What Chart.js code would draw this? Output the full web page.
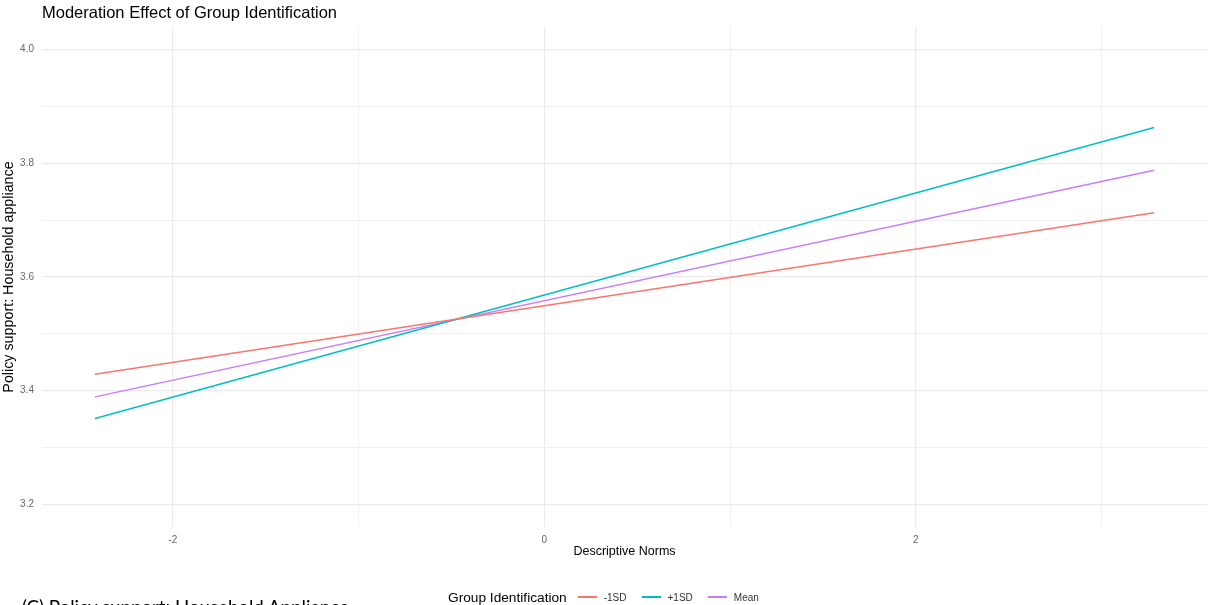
<!DOCTYPE html>
<html>
<head>
<meta charset="utf-8">
<title>Moderation Effect of Group Identification</title>
<script src="https://cdn.jsdelivr.net/npm/chart.js@4/dist/chart.umd.min.js"></script>
<style>
  html, body { margin: 0; padding: 0; background: #fff; overflow: hidden; }
  #wrap { position: relative; width: 1212px; height: 605px; }
  #chart { position: absolute; left: 0; top: 0; }
  #legend {
    position: absolute; left: 448px; top: 589px; height: 16px;
    display: flex; align-items: center; white-space: nowrap;
    font-family: "Liberation Sans", Arial, sans-serif; color: #000;
  }
  #legend .ltitle { font-size: 13.7px; margin-right: 11px; }
  #legend .key { display: inline-block; width: 19px; height: 1.5px; margin-right: 7px; }
  #legend .lab { font-size: 10px; color: #333; margin-right: 15px; }
  #caption {
    position: absolute; left: 22px; top: 598px; line-height: 18px;
    font-family: Lato, "Open Sans", sans-serif; font-size: 18.7px; color: #000; white-space: nowrap;
  }
</style>
</head>
<body>
<div id="wrap">
  <canvas id="chart" width="1212" height="605"></canvas>
  <div id="legend"></div>
  <div id="caption">(C) Policy support: Household Appliance</div>
</div>
<script>
// Simple slopes of policy support on descriptive norms at three levels of group identification
const groupLabels = ['-1SD', '+1SD', 'Mean'];
const groupColors = ['#F8766D', '#00BFC4', '#C77CFF'];
const normsRange = [-2.42, 3.283];
const lowIdentification = [3.429, 3.713];
const highIdentification = [3.351, 3.863];
const meanIdentification = [3.389, 3.788];

// Axis breaks: labelled (major) and unlabelled (minor) grid positions
const xMajorTicks = [-2, 0, 2];
const xMinorTicks = [-1, 1, 3];
const yMajorTicks = [3.2, 3.4, 3.6, 3.8, 4.0];
const yMinorTicks = [3.3, 3.5, 3.7, 3.9];

const seriesValues = [lowIdentification, highIdentification, meanIdentification];

const datasets = groupLabels.map((label, i) => ({
  label,
  data: normsRange.map((x, j) => ({ x, y: seriesValues[i][j] })),
  borderColor: groupColors[i],
  backgroundColor: groupColors[i],
  borderWidth: 1.5,
  pointRadius: 0,
  pointHoverRadius: 0,
  showLine: true,
  fill: false,
  tension: 0
}));

const isMajor = (list, v) => list.some(m => Math.abs(m - v) < 1e-9);
const gridColor = '#EBEBEB';
const baseFont = '"Liberation Sans", Arial, sans-serif';

const chart = new Chart(document.getElementById('chart'), {
  type: 'scatter',
  data: { datasets },
  options: {
    responsive: false,
    animation: false,
    events: [],
    layout: { padding: { left: 0, right: 5, top: 0, bottom: 42 } },
    plugins: {
      legend: { display: false },
      tooltip: { enabled: false },
      title: {
        display: true,
        text: 'Moderation Effect of Group Identification',
        align: 'start',
        fullSize: false,
        color: '#000',
        font: { family: baseFont, size: 16.5, weight: 'normal', lineHeight: 1.2 },
        padding: { top: 3.5, bottom: 3.7 }
      }
    },
    scales: {
      x: {
        type: 'linear',
        min: -2.705,
        max: 3.568,
        afterBuildTicks: axis => {
          axis.ticks = [...xMajorTicks, ...xMinorTicks].sort((a, b) => a - b).map(v => ({ value: v }));
        },
        afterFit: axis => { axis.height = 36; },
        border: { display: false },
        grid: {
          drawTicks: false,
          color: gridColor,
          lineWidth: ctx => isMajor(xMajorTicks, ctx.tick.value) ? 1.2 : 0.7
        },
        ticks: {
          padding: 7,
          color: '#666',
          font: { family: baseFont, size: 10 },
          callback: v => isMajor(xMajorTicks, v) ? String(v) : ''
        },
        title: {
          display: true,
          text: 'Descriptive Norms',
          color: '#000',
          font: { family: baseFont, size: 12.5, lineHeight: 1.2 },
          padding: { top: 0, bottom: 3.5 }
        }
      },
      y: {
        type: 'linear',
        min: 3.16,
        max: 4.04,
        afterBuildTicks: axis => {
          axis.ticks = [...yMajorTicks, ...yMinorTicks].sort((a, b) => a - b).map(v => ({ value: v }));
        },
        afterFit: axis => { axis.width = 42; },
        border: { display: false },
        grid: {
          drawTicks: false,
          color: gridColor,
          lineWidth: ctx => isMajor(yMajorTicks, ctx.tick.value) ? 1.2 : 0.7
        },
        ticks: {
          padding: 8,
          color: '#666',
          font: { family: baseFont, size: 10 },
          callback: v => isMajor(yMajorTicks, v) ? v.toFixed(1) : ''
        },
        title: {
          display: true,
          text: 'Policy support: Household appliance',
          color: '#000',
          font: { family: baseFont, size: 14.3, lineHeight: 1.2 },
          padding: { top: 0.5, bottom: 0 }
        }
      }
    }
  }
});

// Legend row built from the chart's own datasets
const legend = document.getElementById('legend');
const lt = document.createElement('span');
lt.className = 'ltitle';
lt.textContent = 'Group Identification';
legend.appendChild(lt);
chart.data.datasets.forEach(ds => {
  const key = document.createElement('span');
  key.className = 'key';
  key.style.background = ds.borderColor;
  const lab = document.createElement('span');
  lab.className = 'lab';
  lab.textContent = ds.label;
  legend.appendChild(key);
  legend.appendChild(lab);
});
</script>
</body>
</html>
